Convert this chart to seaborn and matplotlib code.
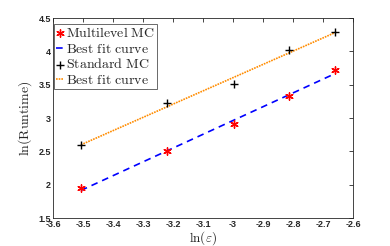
import numpy as np
import pandas as pd
import matplotlib
matplotlib.use("Agg")
import matplotlib.pyplot as plt
import seaborn as sns

# Data
ln_eps = [-3.507, -3.219, -2.996, -2.813, -2.659]
mlmc_runtime = [1.945, 2.505, 2.905, 3.335, 3.72]
std_runtime = [2.60, 3.22, 3.505, 4.02, 4.295]
xticks = [-3.6, -3.5, -3.4, -3.3, -3.2, -3.1, -3.0, -2.9, -2.8, -2.7, -2.6]
xtick_labels = ["-3.6", "-3.5", "-3.4", "-3.3", "-3.2", "-3.1", "-3", "-2.9", "-2.8", "-2.7", "-2.6"]
yticks = [1.5, 2.0, 2.5, 3.0, 3.5, 4.0, 4.5]
ytick_labels = ["1.5", "2", "2.5", "3", "3.5", "4", "4.5"]

sns.set_theme(style="white")
plt.rcParams["mathtext.fontset"] = "cm"
plt.rcParams["font.family"] = ["Liberation Sans", "DejaVu Sans"]

x = np.array(ln_eps)
p_ml = np.polyfit(x, mlmc_runtime, 1)
p_sd = np.polyfit(x, std_runtime, 1)
df = pd.DataFrame({
    "x": x,
    "mlmc": mlmc_runtime,
    "std": std_runtime,
    "mlmc_fit": np.polyval(p_ml, x),
    "std_fit": np.polyval(p_sd, x),
})

fig = plt.figure(figsize=(3.9, 2.46), dpi=100)
ax = fig.add_axes([53/390, 1 - 218/246, 300/390, 200/246])

asterisk = (6, 2, 0)
sns.scatterplot(data=df, x="x", y="mlmc", ax=ax, marker=asterisk, s=28,
                color="#ff0000", edgecolor="#ff0000", linewidth=1.0,
                label=r"$\mathrm{Multilevel\ MC}$", zorder=3)
sns.lineplot(data=df, x="x", y="mlmc_fit", ax=ax, color="#0000ff",
             linestyle=(0, (4, 3)), linewidth=1.2,
             label=r"$\mathrm{Best\ fit\ curve}$", zorder=2)
sns.scatterplot(data=df, x="x", y="std", ax=ax, marker="+", s=36,
                color="black", linewidth=1.0,
                label=r"$\mathrm{Standard\ MC}$", zorder=3)
sns.lineplot(data=df, x="x", y="std_fit", ax=ax, color="#ff8c00",
             linestyle=(0, (1, 0.6)), linewidth=1.2,
             label=r"$\mathrm{Best\ fit\ curve}$", zorder=2)

ax.set_xlim(-3.6, -2.6)
ax.set_ylim(1.5, 4.5)
ax.set_xticks(xticks)
ax.set_xticklabels(xtick_labels)
ax.set_yticks(yticks)
ax.set_yticklabels(ytick_labels)
ax.tick_params(direction="in", length=3, width=0.6, color="#262626",
               labelsize=6.5, pad=1.5, top=True, right=True,
               labelcolor="#262626")
for lbl in ax.get_xticklabels() + ax.get_yticklabels():
    lbl.set_fontweight("bold")
for sp in ax.spines.values():
    sp.set_color("#262626")
    sp.set_linewidth(0.6)

ax.set_xlabel(r"$\ln(\varepsilon)$", fontsize=9.5, color="#262626", va="top")
ax.set_ylabel(r"$\ln(\mathrm{Runtime})$", fontsize=10, color="#262626", va="center")
ax.xaxis.set_label_coords(0.5, -0.055)
ax.yaxis.set_label_coords(-0.093, 0.5)

leg = ax.legend(loc="upper left", bbox_to_anchor=(0.003, 0.97), fontsize=10,
                frameon=True, fancybox=False,
                borderpad=0.15, labelspacing=0.12, handlelength=0.6,
                handletextpad=0.15, borderaxespad=0.0)
leg.get_frame().set_edgecolor("#262626")
leg.get_frame().set_linewidth(0.6)

fig.savefig("out.png", dpi=100)
